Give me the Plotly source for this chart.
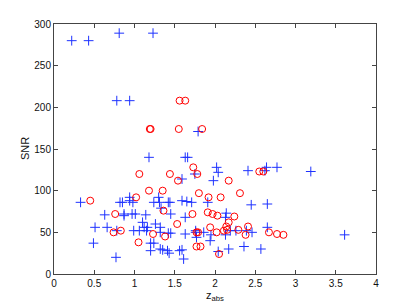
import plotly.graph_objects as go

# Blue "+" series (z_abs, SNR)
blue_z = [0.22, 0.43, 0.81, 1.23, 0.78, 0.94, 1.79, 1.18, 1.63, 1.66,
          2.02, 2.64, 2.77, 1.75, 2.04, 2.41, 2.62, 3.19, 1.59, 1.98,
          0.33, 0.82, 0.85, 0.94, 0.94, 0.98, 1.24, 1.30, 1.31, 1.42,
          1.44, 1.59, 1.65, 1.71, 1.91, 2.45, 2.65, 0.63, 0.87, 0.87,
          0.97, 1.01, 1.14, 1.33, 1.45, 1.63, 2.14, 2.13, 0.51, 0.66,
          0.78, 0.99, 1.06, 1.10, 1.12, 1.16, 1.15, 1.26, 1.32, 1.32,
          1.42, 1.45, 1.63, 1.76, 1.77, 1.86, 1.94, 1.95, 2.13, 2.19,
          2.26, 2.39, 2.46, 2.65, 3.61, 0.49, 1.20, 1.24, 1.20, 1.32,
          1.35, 1.41, 1.43, 1.56, 1.59, 1.61, 0.77, 2.04, 2.17, 2.36,
          2.57, 1.76]
blue_snr = [280, 280, 289, 289, 208, 208, 171, 140, 140, 140,
            128, 128, 128, 120, 122, 124, 124, 123, 114, 112,
            86, 86, 86, 92, 88, 86, 86, 92, 86, 86,
            86, 88, 87, 86, 86, 83, 84, 71, 72, 70,
            72, 72, 71, 79, 72, 68, 73, 68, 56, 56,
            52, 52, 52, 62, 56, 56, 52, 60, 56, 50,
            49, 49, 48, 50, 44, 50, 40, 47, 47, 52,
            52, 52, 50, 56, 47, 37, 37, 37, 28, 30,
            29, 28, 25, 28, 29, 18, 20, 27, 30, 33,
            30, 52]

# Red "o" series (z_abs, SNR)
red_z = [0.45, 0.76, 0.74, 0.83, 1.02, 1.06, 1.05, 1.18, 1.19, 1.20,
         1.23, 1.35, 1.36, 1.38, 1.44, 1.56, 1.63, 1.55, 1.84, 1.54,
         1.53, 1.73, 1.78, 1.80, 1.72, 1.77, 1.79, 1.77, 1.82, 1.92,
         1.91, 1.97, 2.03, 1.94, 2.02, 2.05, 2.07, 2.17, 2.17, 2.14,
         2.11, 2.15, 2.24, 2.31, 2.29, 2.41, 2.38, 2.55, 2.60, 2.67,
         2.77, 2.85]
red_snr = [88, 72, 50, 52, 92, 120, 38, 100, 174, 174,
           48, 100, 76, 45, 120, 208, 208, 174, 174, 112,
           60, 128, 120, 97, 72, 50, 50, 33, 33, 92,
           74, 72, 70, 56, 50, 24, 92, 112, 62, 57,
           52, 53, 69, 97, 53, 57, 47, 123, 123, 50,
           48, 47]

x_ticks = [0, 0.5, 1, 1.5, 2, 2.5, 3, 3.5, 4]
x_tick_text = ["0", "0.5", "1", "1.5", "2", "2.5", "3", "3.5", "4"]
y_ticks = [0, 50, 100, 150, 200, 250, 300]

FONT = "Liberation Sans, Arial, sans-serif"

fig = go.Figure()
fig.add_trace(go.Scatter(
    x=blue_z, y=blue_snr, mode="markers",
    marker=dict(symbol="cross-thin", size=7, color="rgba(0,0,0,0)",
                line=dict(color="rgb(30,50,255)", width=1)),
    showlegend=False, hoverinfo="skip"))
fig.add_trace(go.Scatter(
    x=red_z, y=red_snr, mode="markers",
    marker=dict(symbol="circle-open", size=7,
                line=dict(color="rgb(255,0,0)", width=1), color="rgb(255,0,0)"),
    showlegend=False, hoverinfo="skip"))

axis_common = dict(
    showgrid=False, zeroline=False, showline=True, linecolor="#444444",
    linewidth=1, mirror="ticks", ticks="inside", ticklen=4, tickcolor="#444444",
    automargin=False,
    tickfont=dict(family=FONT, size=10, color="#111111"),
)

# page body has an 8px default margin (left/top), so the figure is 8px smaller
fig.update_layout(
    width=407, height=300,
    margin=dict(l=46, r=39, t=16, b=34),
    paper_bgcolor="white", plot_bgcolor="white",
    font=dict(family=FONT, size=10, color="#111111"),
    xaxis=dict(range=[0, 4], tickvals=x_ticks, ticktext=x_tick_text, **axis_common),
    yaxis=dict(range=[0, 300], tickvals=y_ticks, **axis_common),
    annotations=[
        dict(text="z<sub>abs</sub>", x=2, xref="x", y=-0.088, yref="paper",
             xanchor="center", yanchor="middle", showarrow=False,
             font=dict(family=FONT, size=11, color="#111111")),
        dict(text="SNR", x=-0.09, xref="paper", y=0.5, yref="paper",
             xanchor="center", yanchor="middle", textangle=-90, showarrow=False,
             font=dict(family=FONT, size=11, color="#111111")),
    ],
)

fig.write_html("out.html")
